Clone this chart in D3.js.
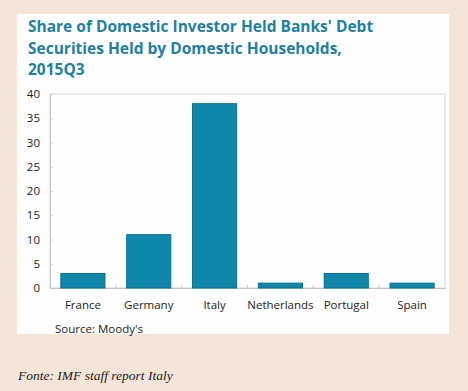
<!DOCTYPE html>
<html><head><meta charset="utf-8">
<script src="https://cdn.jsdelivr.net/npm/d3@7"></script>
<style>
html,body{margin:0;padding:0;background:#f4e5d8;}
svg{display:block;}
</style></head>
<body>
<script>
const categories = ["France","Germany","Italy","Netherlands","Portugal","Spain"];
const values = [3, 11, 38, 1, 3, 1];
const yTicks = [0,5,10,15,20,25,30,35,40];
const titleLines = ["Share of Domestic Investor Held Banks' Debt","Securities Held by Domestic Households,","2015Q3"];
const sourceText = "Source: Moody's";
const fonteText = "Fonte: IMF staff report Italy";

const W = 468, H = 391;
const svg = d3.select("body").append("svg").attr("width", W).attr("height", H);
svg.append("rect").attr("width", W).attr("height", H).attr("fill", "#f4e5d8");
svg.append("rect").attr("x", 17).attr("y", 14).attr("width", 432).attr("height", 320).attr("fill", "#fefefe");

const sans = "'Segoe UI','Open Sans','DejaVu Sans',sans-serif";
const title = svg.append("text").attr("font-family", sans).attr("font-weight", "bold")
  .attr("font-size", 15.5).attr("fill", "#1f80a0");
titleLines.forEach((t, i) => title.append("tspan").attr("x", 28).attr("y", 32 + i * 21.5).text(t));

const m = {left: 50, right: 445, top: 94, bottom: 288};
const x = d3.scaleBand().domain(categories).range([m.left, m.right]).paddingInner(0.33).paddingOuter(0.165);
const y = d3.scaleLinear().domain([0, 40]).range([m.bottom, m.top]);

// plot frame
svg.append("rect").attr("x", m.left).attr("y", m.top).attr("width", m.right - m.left).attr("height", m.bottom - m.top)
  .attr("fill", "none").attr("stroke", "#d4d4d4").attr("stroke-width", 1);

// y axis
const ya = svg.append("g").attr("transform", `translate(${m.left},0)`)
  .call(d3.axisLeft(y).tickValues(yTicks).tickSize(-3).tickPadding(10));
ya.select(".domain").attr("stroke", "#c4c4c4");
ya.selectAll(".tick line").attr("stroke", "#d0d0d0");
ya.selectAll("text").attr("font-family", sans).attr("font-size", 11.5).attr("fill", "#222");

// x axis
const xa = svg.append("g").attr("transform", `translate(0,${m.bottom})`)
  .call(d3.axisBottom(x).tickSize(0).tickPadding(13));
xa.select(".domain").attr("stroke", "#c4c4c4");
xa.selectAll("text").attr("font-family", sans).attr("font-size", 11.5).attr("fill", "#222");
// band boundary ticks
const step = x.step();
const bounds = d3.range(1, categories.length).map(i => x(categories[i]) - (step - x.bandwidth()) / 2);
svg.append("g").selectAll("line").data(bounds).join("line")
  .attr("x1", d => d).attr("x2", d => d).attr("y1", m.bottom).attr("y2", m.bottom - 3)
  .attr("stroke", "#c8c8c8");

// bars
svg.append("g").selectAll("rect").data(values).join("rect")
  .attr("x", (d, i) => x(categories[i]))
  .attr("y", d => y(d))
  .attr("width", x.bandwidth())
  .attr("height", d => y(0) - y(d))
  .attr("fill", "#0f87aa").attr("stroke", "#0b6f8c").attr("stroke-width", 1);

svg.append("text").attr("x", 55).attr("y", 333).attr("font-family", sans).attr("font-size", 11.5)
  .attr("fill", "#222").text(sourceText);

svg.append("text").attr("x", 18).attr("y", 380).attr("font-family", "'Liberation Serif','DejaVu Serif',serif")
  .attr("font-style", "italic").attr("font-size", 13.5).attr("fill", "#222").text(fonteText);
</script>
</body></html>
